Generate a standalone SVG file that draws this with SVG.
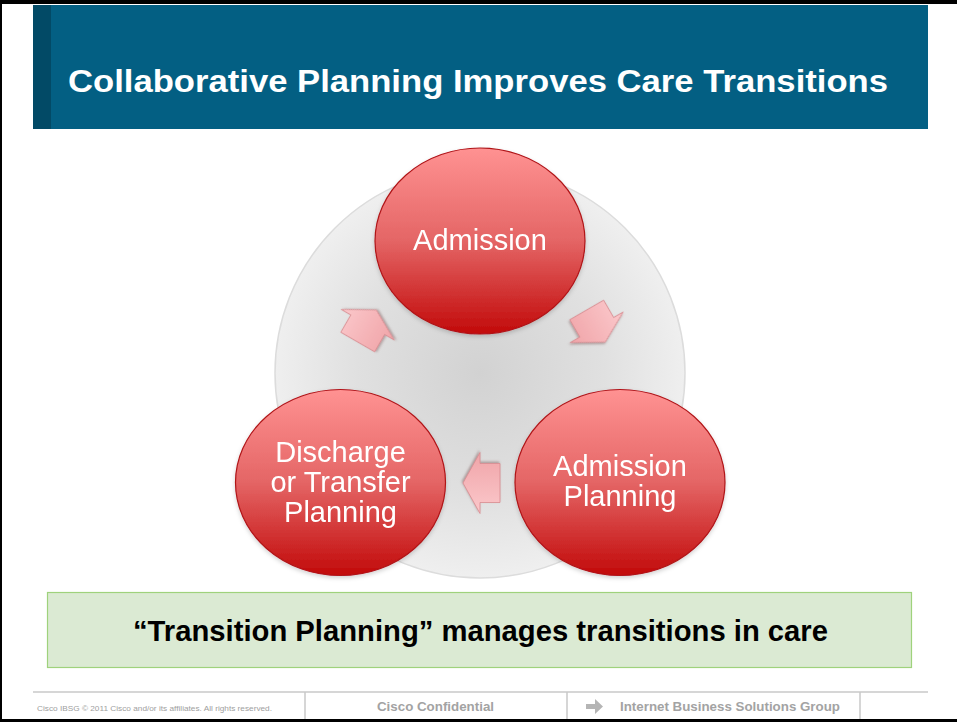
<svg xmlns="http://www.w3.org/2000/svg" width="957" height="722" viewBox="0 0 957 722">
<style>
.title{font-family:"Liberation Sans",Arial,sans-serif;font-weight:bold;font-size:32px;fill:#ffffff}
.node-text{font-family:"Liberation Sans",Arial,sans-serif;font-size:29px;fill:#ffffff;text-anchor:middle}
.node-circle{fill:url(#redGrad);stroke:#b01318;stroke-width:1.2}
.arrow{fill:url(#pinkGrad);stroke:#d98c91;stroke-width:0.8;filter:url(#shadow)}
.banner-text{font-family:"Liberation Sans",Arial,sans-serif;font-weight:bold;font-size:29px;fill:#000000;text-anchor:middle}
.foot-bold{font-family:"Liberation Sans",Arial,sans-serif;font-weight:bold;font-size:13px;fill:#a3a3a3}
.foot-small{font-family:"Liberation Sans",Arial,sans-serif;font-size:7.5px;fill:#a0a0a0}
.foot-line{stroke:#c8c8c8;stroke-width:1.5}
</style>
<defs>
<linearGradient id="redGrad" x1="0" y1="0" x2="0" y2="1">
<stop offset="0" stop-color="#ff9292"/>
<stop offset="0.5" stop-color="#e46565"/>
<stop offset="1" stop-color="#c20a0a"/>
</linearGradient>
<linearGradient id="pinkGrad" x1="0" y1="0" x2="0" y2="1">
<stop offset="0" stop-color="#fbc8cb"/>
<stop offset="1" stop-color="#f0a4a8"/>
</linearGradient>
<radialGradient id="grayGrad" cx="0.5" cy="0.5" r="0.5">
<stop offset="0" stop-color="#d2d2d2"/>
<stop offset="0.6" stop-color="#e0e0e0"/>
<stop offset="1" stop-color="#efefef"/>
</radialGradient>
<filter id="shadow" x="-30%" y="-30%" width="160%" height="160%">
<feDropShadow dx="1" dy="1.5" stdDeviation="1" flood-color="#7a5556" flood-opacity="0.5"/>
</filter>
<filter id="cshadow" x="-10%" y="-10%" width="120%" height="120%">
<feDropShadow dx="0" dy="2" stdDeviation="2" flood-color="#000000" flood-opacity="0.18"/>
</filter>
<path id="arrowShape" d="M18.5,0 L1.5,-30.5 L1.5,-19.5 L-18.5,-19.5 L-18.5,19.5 L1.5,19.5 L1.5,30.5 Z"/>
</defs>

<rect x="0" y="0" width="957" height="722" fill="#ffffff"/>
<rect x="0" y="0" width="957" height="4" fill="#000000"/>
<rect x="0" y="0" width="2" height="722" fill="#000000"/>
<rect x="0" y="719" width="957" height="3" fill="#000000"/>

<g id="header">
<rect x="33" y="5" width="895" height="124" fill="#035f83"/>
<rect x="33" y="5" width="18" height="124" fill="#024a66"/>
<text class="title" x="68" y="92" textLength="820" lengthAdjust="spacingAndGlyphs">Collaborative Planning Improves Care Transitions</text>
</g>

<circle cx="480" cy="373" r="205" fill="url(#grayGrad)" stroke="#dcdcdc" stroke-width="1.5"/>

<g id="connectors">
<use href="#arrowShape" class="arrow" transform="translate(367,326) rotate(-60)"/>
<use href="#arrowShape" class="arrow" transform="translate(596,326) rotate(60)"/>
<use href="#arrowShape" class="arrow" transform="translate(481.5,483) rotate(180)"/>
</g>

<g id="node-admission" filter="url(#cshadow)">
<ellipse class="node-circle" cx="480" cy="241" rx="105" ry="93"/>
<text class="node-text" x="480" y="250">Admission</text>
</g>

<g id="node-admission-planning" filter="url(#cshadow)">
<ellipse class="node-circle" cx="620" cy="482.5" rx="105" ry="93"/>
<text class="node-text" x="620" y="476">Admission</text>
<text class="node-text" x="620" y="506">Planning</text>
</g>

<g id="node-discharge" filter="url(#cshadow)">
<ellipse class="node-circle" cx="340.5" cy="482.5" rx="105" ry="93"/>
<text class="node-text" x="340.5" y="462">Discharge</text>
<text class="node-text" x="340.5" y="492">or Transfer</text>
<text class="node-text" x="340.5" y="522">Planning</text>
</g>

<g id="banner">
<rect x="47.5" y="592.5" width="864" height="75" fill="#dbead3" stroke="#9fd27c" stroke-width="1.2"/>
<text class="banner-text" x="480.5" y="641" textLength="695" lengthAdjust="spacingAndGlyphs">“Transition Planning” manages transitions in care</text>
</g>

<g id="footer">
<line class="foot-line" x1="33" y1="692" x2="928" y2="692"/>
<line class="foot-line" x1="305" y1="692" x2="305" y2="719"/>
<line class="foot-line" x1="567" y1="692" x2="567" y2="719"/>
<line class="foot-line" x1="860" y1="692" x2="860" y2="719"/>
<text class="foot-small" x="37" y="711" textLength="235" lengthAdjust="spacingAndGlyphs">Cisco IBSG © 2011 Cisco and/or its affiliates. All rights reserved.</text>
<text class="foot-bold" x="377" y="711" textLength="117" lengthAdjust="spacingAndGlyphs">Cisco Confidential</text>
<path d="M586,704 L595,704 L595,699 L603,706.5 L595,714 L595,709 L586,709 Z" fill="#b5b5b5"/>
<text class="foot-bold" x="620" y="711" textLength="220" lengthAdjust="spacingAndGlyphs">Internet Business Solutions Group</text>
</g>
</svg>
